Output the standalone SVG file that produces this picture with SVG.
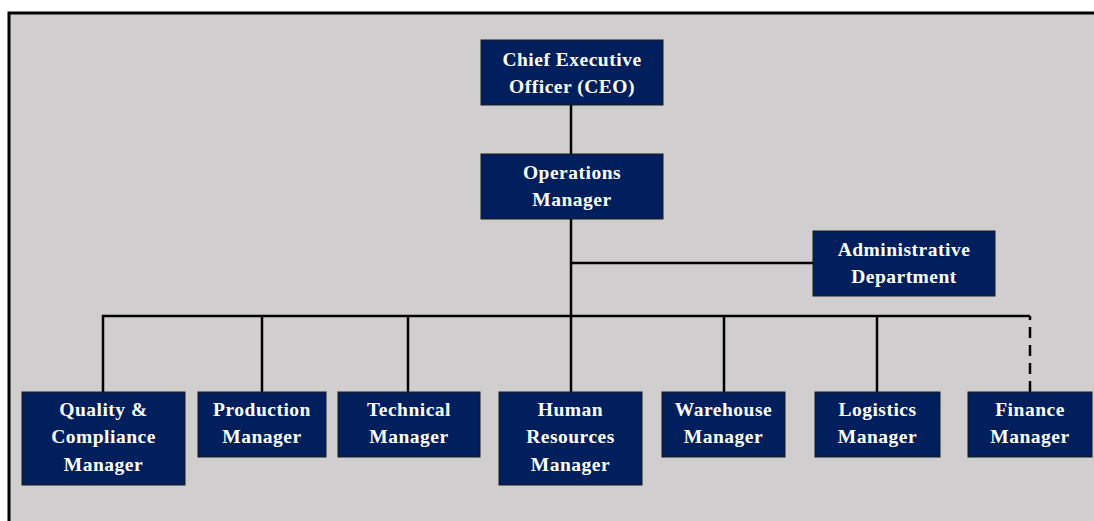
<svg xmlns="http://www.w3.org/2000/svg" width="1094" height="521" viewBox="0 0 1094 521">
  <style>
    .node rect { fill: #001f5c; stroke: #1a1a1a; stroke-width: 1; }
    .node text { fill: #ffffff; font-family: "Liberation Serif", "Times New Roman", serif; font-weight: bold; font-size: 19.5px; text-anchor: middle; letter-spacing: 0.5px; }
    .link { stroke: #000000; stroke-width: 2.5; fill: none; }
    .dashed { stroke-dasharray: 11 7; stroke-dashoffset: 7; }
  </style>

  <!-- page background with frame on top and left -->
  <rect x="0" y="0" width="1094" height="521" fill="#ffffff"/>
  <rect x="9" y="13" width="1085" height="508" fill="#d0cecf"/>
  <path d="M9 521 V13 H1094" stroke="#000000" stroke-width="3" fill="none"/>

  <!-- connectors -->
  <g id="connectors">
    <path class="link" d="M571 105 V154"/>
    <path class="link" d="M571 219 V392"/>
    <path class="link" d="M571 263 H813"/>
    <path class="link" d="M103 392 V316 H1030"/>
    <path class="link" d="M262 316 V392"/>
    <path class="link" d="M408 316 V392"/>
    <path class="link" d="M724 316 V392"/>
    <path class="link" d="M877 316 V392"/>
    <path class="link dashed" d="M1030 316 V392"/>
  </g>

  <g id="ceo" class="node">
    <rect x="481" y="40" width="182" height="65"/>
    <text x="572" y="66">Chief  Executive</text>
    <text x="572" y="93">Officer (CEO)</text>
  </g>

  <g id="operations" class="node">
    <rect x="481" y="154" width="182" height="65"/>
    <text x="572" y="179">Operations</text>
    <text x="572" y="206">Manager</text>
  </g>

  <g id="administrative" class="node">
    <rect x="813" y="231" width="182" height="65"/>
    <text x="904" y="256">Administrative</text>
    <text x="904" y="283">Department</text>
  </g>

  <g id="quality" class="node">
    <rect x="22" y="392" width="163" height="93"/>
    <text x="103.5" y="416">Quality &amp;</text>
    <text x="103.5" y="443">Compliance</text>
    <text x="103.5" y="471">Manager</text>
  </g>

  <g id="production" class="node">
    <rect x="198" y="392" width="128" height="65"/>
    <text x="262" y="416">Production</text>
    <text x="262" y="443">Manager</text>
  </g>

  <g id="technical" class="node">
    <rect x="338" y="392" width="142" height="65"/>
    <text x="409" y="416">Technical</text>
    <text x="409" y="443">Manager</text>
  </g>

  <g id="human-resources" class="node">
    <rect x="499" y="392" width="143" height="93"/>
    <text x="570.5" y="416">Human</text>
    <text x="570.5" y="443">Resources</text>
    <text x="570.5" y="471">Manager</text>
  </g>

  <g id="warehouse" class="node">
    <rect x="662" y="392" width="123" height="65"/>
    <text x="723.5" y="416">Warehouse</text>
    <text x="723.5" y="443">Manager</text>
  </g>

  <g id="logistics" class="node">
    <rect x="815" y="392" width="125" height="65"/>
    <text x="877.5" y="416">Logistics</text>
    <text x="877.5" y="443">Manager</text>
  </g>

  <g id="finance" class="node">
    <rect x="968" y="392" width="124" height="65"/>
    <text x="1030" y="416">Finance</text>
    <text x="1030" y="443">Manager</text>
  </g>
</svg>
